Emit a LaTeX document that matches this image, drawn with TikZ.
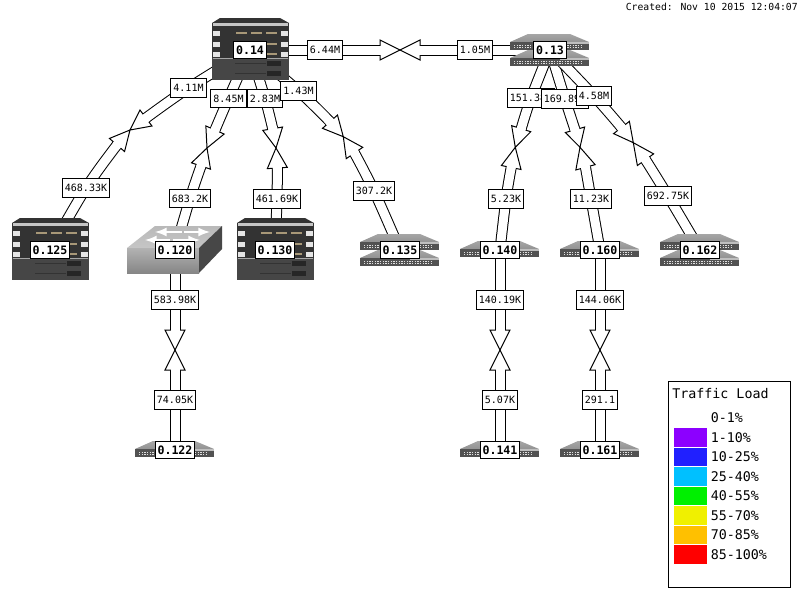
\documentclass[tikz,border=0pt]{standalone}
\usepackage{fontspec}
\newfontfamily\maplabelfont{DejaVu Sans Mono}
\usetikzlibrary{calc}
\pgfdeclarelayer{links}
\pgfsetlayers{links,main}
\definecolor{rackdark}{HTML}{333333}
\definecolor{racklow}{HTML}{464646}
\definecolor{rackport}{HTML}{A89878}
\tikzset{
    linklabel/.style={draw=black,fill=white,line width=0.75pt,inner xsep=2.1pt,inner ysep=0pt,minimum height=14pt,text height=5.6pt,text depth=0pt,font=\maplabelfont\fontsize{7.5}{8}\selectfont},
    nodelabel/.style={draw=black,fill=white,line width=0.75pt,inner xsep=1.6pt,inner ysep=0pt,minimum height=13pt,text height=6.4pt,text depth=0pt,font=\maplabelfont\bfseries\fontsize{8.7}{9}\selectfont},
    linkedge/.style={draw=black,line width=8.25pt},
    linkfill/.style={draw=white,line width=6.75pt},
    linkhead/.style={draw=black,fill=white,line width=0.75pt,line join=miter},
    legendtext/.style={anchor=west,inner sep=0pt,font=\maplabelfont\fontsize{10}{11}\selectfont},
    swatch/.style={minimum width=24.75pt,minimum height=13.8pt,inner sep=0pt},
    routericon/.pic={
        \fill[rackdark] (-30,-32) -- (30,-32) -- (39,-27) -- (-38,-27) -- cycle;
        \fill[rackdark] (-38,-27) rectangle (39,8);
        \fill[racklow] (-38,8) rectangle (39,30);
        \fill[gray!45] (-37,-27) rectangle (38,-24);
        \foreach \rowy in {-17,-6,4} {
            \fill[gray!20] (-37,\rowy-2) rectangle (-30,\rowy+3);
            \fill[gray!20] (31,\rowy-2) rectangle (38,\rowy+3);
            \fill[rackport] (-14,\rowy-1) rectangle (-3,\rowy+1);
            \fill[rackport] (1,\rowy-1) rectangle (12,\rowy+1);
            \fill[rackport] (16,\rowy-1) rectangle (27,\rowy+1);
        }
        \fill[gray!70] (-37,8) rectangle (38,9);
        \draw[black!80,line width=0.75pt] (-15,13) -- (16,13);
        \draw[black!80,line width=0.75pt] (-15,23) -- (16,23);
        \fill[black!85] (17,11) rectangle (31,16);
        \fill[black!85] (17,21) rectangle (31,26);
    },
    switchicon/.pic={
        \shade[top color=gray!70,bottom color=gray!85] (-22,-9) -- (20,-9) -- (39,-1) -- (-40,-1) -- cycle;
        \fill[black!68] (-40,-1) rectangle (39,7);
        \fill[gray!50] (10,-1) rectangle (39,1);
        \draw[gray!25,line width=0.75pt,dash pattern=on 1pt off 1pt] (-36,2) -- (32,2);
        \draw[gray!25,line width=0.75pt,dash pattern=on 1pt off 1pt] (-36,4.5) -- (32,4.5);
    },
    boxicon/.pic={
        \shade[top color=gray!55,bottom color=gray!45] (-48,-2) -- (-20,-24) -- (47,-24) -- (24,-2) -- cycle;
        \shade[top color=gray!60,bottom color=gray!95] (-48,-2) rectangle (24,23);
        \fill[black!72] (24,-2) -- (47,-24) -- (47,-1) -- (24,23) -- cycle;
        \draw[white,line width=2pt,-latex] (7,-18) -- (-20,-18);
        \draw[white,line width=2pt,-latex] (9,-18) -- (35,-18);
        \draw[white,line width=2pt,-latex] (-5,-10) -- (-30,-10);
        \draw[white,line width=2pt,-latex] (-2,-10) -- (25,-10);
    }
}
% one direction of a link: from node, through its label, to head base, to tip
\newcommand{\halflink}[4]{%
    \draw[linkedge] plot[smooth,tension=.6] coordinates {(#1.center) (#2.center) (#3)};
    \draw[linkhead] ($(#3)!7.5pt!90:(#4)$) -- (#4) -- ($(#3)!7.5pt!-90:(#4)$) -- cycle;
    \draw[linkfill] plot[smooth,tension=.6] coordinates {(#1.center) (#2.center) (#3)};
    \draw[linkfill] ($(#3)!-1pt!(#4)$) -- ($(#3)!1pt!(#4)$);
}
\begin{document}
\begin{tikzpicture}[x=0.75pt,y=-0.75pt]
    \useasboundingbox (0,0) rectangle (800,600);

    % icons
    \pic at (250,50) {routericon};
    \pic at (550,43) {switchicon};
    \pic at (550,59) {switchicon};
    \pic at (50,250) {routericon};
    \pic at (175,250) {boxicon};
    \pic at (275,250) {routericon};
    \pic at (400,243) {switchicon};
    \pic at (400,259) {switchicon};
    \pic at (500,250) {switchicon};
    \pic at (600,250) {switchicon};
    \pic at (700,243) {switchicon};
    \pic at (700,259) {switchicon};
    \pic at (175,450) {switchicon};
    \pic at (500,450) {switchicon};
    \pic at (600,450) {switchicon};

    % devices
    \node[nodelabel] (n14) at (250,50) {0.14};
    \node[nodelabel] (n13) at (550,50) {0.13};
    \node[nodelabel] (n125) at (50,250) {0.125};
    \node[nodelabel] (n120) at (175,250) {0.120};
    \node[nodelabel] (n130) at (275,250) {0.130};
    \node[nodelabel] (n135) at (400,250) {0.135};
    \node[nodelabel] (n140) at (500,250) {0.140};
    \node[nodelabel] (n160) at (600,250) {0.160};
    \node[nodelabel] (n162) at (700,250) {0.162};
    \node[nodelabel] (n122) at (175,450) {0.122};
    \node[nodelabel] (n141) at (500,450) {0.141};
    \node[nodelabel] (n161) at (600,450) {0.161};

    % traffic labels
    \node[linklabel] (t14b) at (325,50) {6.44M};
    \node[linklabel] (t13a) at (475,50) {1.05M};
    \node[linklabel] (t14c) at (188.5,88) {4.11M};
    \node[linklabel] (t14d) at (228.5,98.5) {8.45M};
    \node[linklabel] (t14e) at (265,98.5) {2.83M};
    \node[linklabel] (t14f) at (298.5,91) {1.43M};
    \node[linklabel] (t125) at (86,188) {468.33K};
    \node[linklabel] (t120) at (190,198.5) {683.2K};
    \node[linklabel] (t130) at (277,199) {461.69K};
    \node[linklabel] (t135) at (374,191) {307.2K};
    \node[linklabel] (t120b) at (175,300) {583.98K};
    \node[linklabel] (t122) at (175,400) {74.05K};
    \node[linklabel] (t13c) at (531,98) {151.38K};
    \node[linklabel] (t13d) at (565,99) {169.89K};
    \node[linklabel] (t13e) at (594,96) {4.58M};
    \node[linklabel] (t140) at (506,199) {5.23K};
    \node[linklabel] (t160) at (591,199) {11.23K};
    \node[linklabel] (t162) at (668,196) {692.75K};
    \node[linklabel] (t140b) at (500,300) {140.19K};
    \node[linklabel] (t160b) at (600,300) {144.06K};
    \node[linklabel] (t141) at (500,400) {5.07K};
    \node[linklabel] (t161) at (600,400) {291.1};

    % link midpoints
    \coordinate (m13) at (400,50);
    \coordinate (m125) at (130,130);
    \coordinate (m120) at (207,148);
    \coordinate (m130) at (276,148);
    \coordinate (m135) at (343.3,136.7);
    \coordinate (m140) at (515.3,147.3);
    \coordinate (m160) at (580,147.3);
    \coordinate (m162) at (633.3,142.7);
    \coordinate (m122) at (175,350);
    \coordinate (m141) at (500,350);
    \coordinate (m161) at (600,350);

    % links
    \begin{pgfonlayer}{links}
        \fill[white] (0,0) rectangle (800,600);
        \halflink{n14}{t14c}{146,118}{m125}
        \halflink{n125}{t125}{117,145}{m125}
        \halflink{n14}{t14d}{215,130}{m120}
        \halflink{n120}{t120}{201,166}{m120}
        \halflink{n14}{t14e}{272.7,128.7}{m130}
        \halflink{n130}{t130}{277.3,168}{m130}
        \halflink{n14}{t14f}{330,121.7}{m135}
        \halflink{n135}{t135}{354.5,153}{m135}
        \halflink{n14}{t14b}{380,50}{m13}
        \halflink{n13}{t13a}{420,50}{m13}
        \halflink{n13}{t13c}{521.2,128.7}{m140}
        \halflink{n140}{t140}{511.2,167.5}{m140}
        \halflink{n13}{t13d}{575,129.8}{m160}
        \halflink{n160}{t160}{585.5,167.3}{m160}
        \halflink{n13}{t13e}{621.5,127.5}{m162}
        \halflink{n162}{t162}{645.5,159.7}{m162}
        \halflink{n120}{t120b}{175,330}{m122}
        \halflink{n122}{t122}{175,370}{m122}
        \halflink{n140}{t140b}{500,330}{m141}
        \halflink{n141}{t141}{500,370}{m141}
        \halflink{n160}{t160b}{600,330}{m161}
        \halflink{n161}{t161}{600,370}{m161}
    \end{pgfonlayer}

    % legend
    \node[draw=black,line width=0.75pt,minimum width=91.5pt,minimum height=154pt,inner sep=0pt] (legendbox) at (729.5,484.5) {};
    \node[legendtext] (legendtitle) at (672,394) {Traffic Load};
    \node[legendtext] (load0) at (710.5,418) {0-1\%};
    \foreach \i/\swatchcol/\loadtxt in {1/8C00FF/1-10,2/2020FF/10-25,3/00C0FF/25-40,4/00F000/40-55,5/F0F000/55-70,6/FFC000/70-85,7/FF0000/85-100} {
        \definecolor{swatchcur}{HTML}{\swatchcol}
        \node[swatch,fill=swatchcur] (swatch\i) at (690.5,418+19.5*\i) {};
        \node[legendtext] (load\i) at (710.5,418+19.5*\i) {\loadtxt\%};
    }

    \node[anchor=east,inner sep=0pt,font=\maplabelfont\fontsize{7.3}{8}\selectfont] (created) at (798,7) {Created: Nov 10 2015 12:04:07};
\end{tikzpicture}
\end{document}
